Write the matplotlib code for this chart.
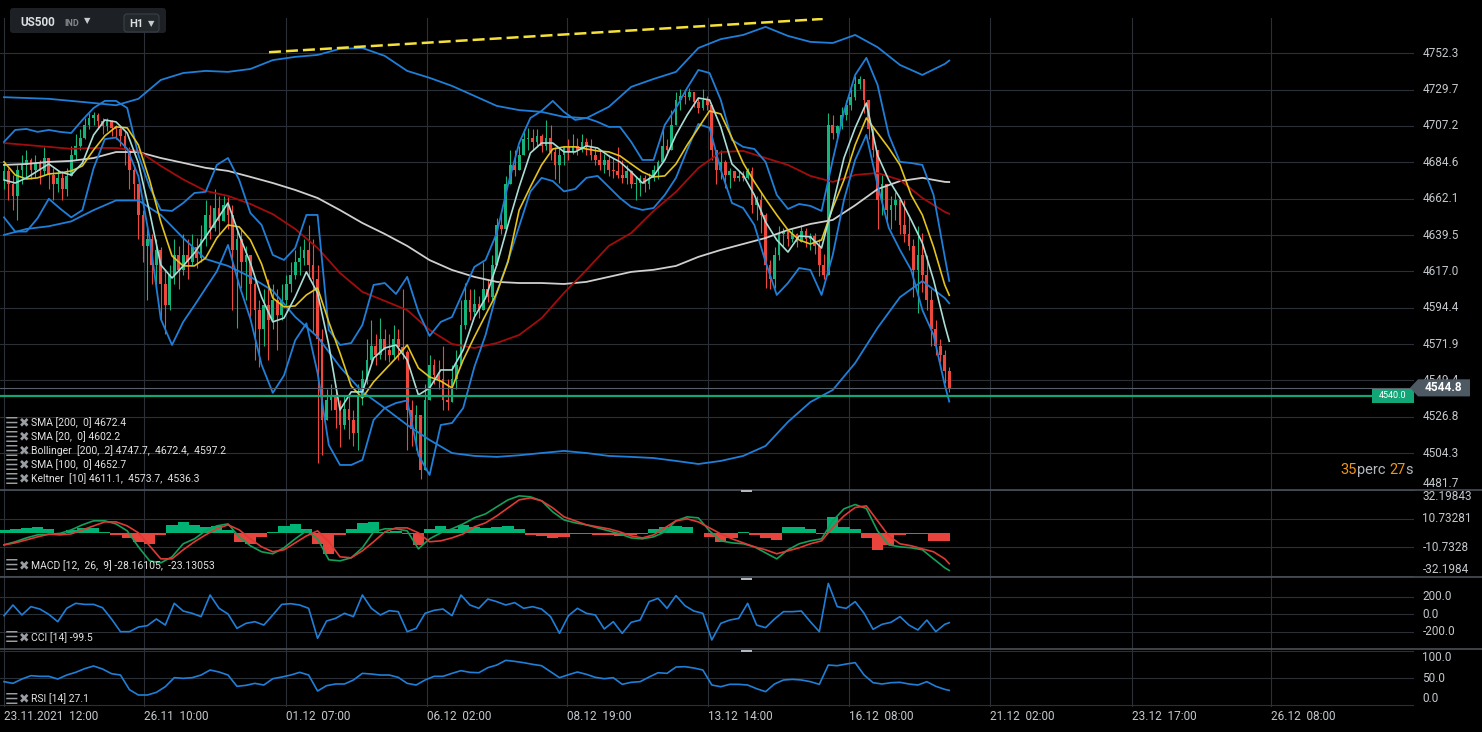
import numpy as np
import matplotlib.pyplot as plt
import matplotlib.transforms as mtransforms
from matplotlib.patches import Rectangle, Polygon, FancyBboxPatch
from matplotlib.lines import Line2D

W, H = 1482, 732
plt.rcParams['font.family'] = ['Roboto', 'DejaVu Sans']

# === Data (trading hours since 23.11.2021 12:00) ===
tick_hours = [0, 62.5, 125.8, 188.7, 251.3, 314.3, 377.1, 440, 503.6, 565.6]
tick_labels = ["23.11.2021  12:00", "26.11  10:00", "01.12  07:00", "06.12  02:00",
               "08.12  19:00", "13.12  14:00", "16.12  08:00", "21.12  02:00",
               "23.12  17:00", "26.12  08:00"]

# 2-hour candles
first_open = 4674
c_close = [4679, 4671, 4664, 4680, 4683, 4686, 4680, 4684, 4679, 4687, 4677, 4671, 4675, 4668, 4676,
           4689, 4695, 4700, 4708, 4712, 4714, 4710, 4707, 4710, 4706, 4705, 4701, 4692, 4680, 4671,
           4652, 4633, 4637, 4621, 4630, 4609, 4596, 4615, 4627, 4618, 4627, 4623, 4632, 4625, 4637,
           4652, 4644, 4656, 4648, 4658, 4652, 4630, 4637, 4623, 4627, 4609, 4593, 4581, 4596, 4587,
           4599, 4590, 4599, 4609, 4615, 4623, 4625, 4630, 4621, 4612, 4575, 4525, 4537, 4540, 4531,
           4522, 4532, 4525, 4517, 4539, 4550, 4562, 4571, 4565, 4575, 4568, 4565, 4575, 4570, 4567,
           4531, 4519, 4528, 4494, 4537, 4559, 4553, 4550, 4537, 4536, 4550, 4559, 4584, 4599, 4592,
           4597, 4593, 4606, 4601, 4621, 4646, 4643, 4671, 4683, 4680, 4689, 4699, 4700, 4697, 4701,
           4695, 4700, 4691, 4683, 4689, 4694, 4691, 4695, 4692, 4697, 4694, 4689, 4686, 4683, 4686,
           4680, 4679, 4677, 4675, 4679, 4671, 4672, 4675, 4671, 4675, 4680, 4685, 4695, 4692, 4708,
           4723, 4726, 4725, 4728, 4722, 4718, 4723, 4720, 4692, 4680, 4685, 4677, 4679, 4675, 4676,
           4675, 4679, 4658, 4661, 4652, 4621, 4612, 4627, 4640, 4642, 4637, 4640, 4635, 4642, 4637,
           4639, 4633, 4621, 4615, 4708, 4703, 4707, 4714, 4720, 4725, 4733, 4736, 4723, 4705, 4692,
           4661, 4671, 4655, 4658, 4661, 4646, 4640, 4633, 4618, 4627, 4615, 4599, 4581, 4571, 4565,
           4555, 4544.8]
c_high = [4683, 4681, 4677, 4683, 4689, 4692, 4687, 4689, 4686, 4694, 4686, 4681, 4680, 4679, 4681,
          4695, 4702, 4705, 4712, 4715, 4716, 4715, 4712, 4712, 4711, 4708, 4707, 4704, 4694, 4683,
          4671, 4655, 4646, 4640, 4637, 4632, 4618, 4621, 4637, 4633, 4640, 4637, 4640, 4638, 4646,
          4661, 4658, 4668, 4664, 4664, 4663, 4658, 4643, 4644, 4633, 4625, 4612, 4599, 4606, 4612,
          4609, 4606, 4609, 4615, 4623, 4630, 4633, 4637, 4646, 4637, 4621, 4581, 4544, 4547, 4544,
          4537, 4540, 4540, 4531, 4547, 4556, 4575, 4587, 4578, 4588, 4581, 4578, 4584, 4581, 4606,
          4568, 4537, 4534, 4525, 4547, 4565, 4563, 4562, 4571, 4550, 4559, 4568, 4599, 4610, 4606,
          4606, 4602, 4623, 4612, 4627, 4650, 4653, 4676, 4692, 4692, 4695, 4705, 4706, 4705, 4705,
          4702, 4711, 4708, 4694, 4694, 4695, 4699, 4702, 4700, 4702, 4700, 4699, 4694, 4692, 4690,
          4689, 4687, 4694, 4686, 4683, 4680, 4676, 4677, 4677, 4678, 4683, 4686, 4705, 4699, 4717,
          4728, 4730, 4730, 4731, 4728, 4725, 4730, 4726, 4720, 4692, 4692, 4686, 4681, 4679, 4679,
          4679, 4681, 4682, 4664, 4666, 4653, 4624, 4632, 4645, 4644, 4643, 4643, 4641, 4646, 4644,
          4641, 4641, 4637, 4628, 4715, 4714, 4708, 4719, 4723, 4730, 4738, 4738, 4731, 4723, 4707,
          4692, 4677, 4668, 4664, 4666, 4658, 4661, 4652, 4637, 4645, 4641, 4627, 4606, 4587, 4575,
          4568, 4558]
c_low = [4668, 4661, 4655, 4649, 4671, 4675, 4674, 4675, 4671, 4677, 4668, 4661, 4666, 4661, 4664,
         4680, 4686, 4692, 4699, 4705, 4708, 4705, 4702, 4704, 4701, 4699, 4695, 4683, 4668, 4661,
         4637, 4623, 4599, 4609, 4606, 4587, 4578, 4593, 4609, 4606, 4615, 4612, 4621, 4619, 4623,
         4633, 4637, 4642, 4640, 4649, 4643, 4593, 4582, 4607, 4599, 4587, 4562, 4558, 4571, 4562,
         4581, 4568, 4587, 4596, 4604, 4612, 4615, 4621, 4612, 4579, 4498, 4503, 4525, 4531, 4520,
         4508, 4519, 4513, 4509, 4506, 4534, 4547, 4561, 4559, 4563, 4562, 4561, 4563, 4562, 4563,
         4506, 4509, 4506, 4488, 4513, 4550, 4547, 4544, 4531, 4531, 4540, 4544, 4568, 4581, 4587,
         4590, 4588, 4596, 4598, 4599, 4623, 4640, 4646, 4674, 4676, 4680, 4689, 4692, 4692, 4694,
         4691, 4692, 4686, 4674, 4672, 4683, 4686, 4690, 4689, 4691, 4689, 4686, 4683, 4680, 4678,
         4676, 4675, 4675, 4672, 4671, 4669, 4661, 4664, 4666, 4668, 4673, 4674, 4688, 4689, 4695,
         4711, 4717, 4721, 4723, 4719, 4715, 4717, 4717, 4686, 4671, 4674, 4669, 4669, 4673, 4673,
         4673, 4674, 4653, 4649, 4641, 4607, 4606, 4607, 4624, 4633, 4633, 4635, 4632, 4637, 4632,
         4630, 4628, 4614, 4612, 4615, 4699, 4699, 4705, 4711, 4717, 4723, 4730, 4715, 4699, 4688,
         4643, 4652, 4649, 4643, 4649, 4640, 4635, 4630, 4601, 4591, 4604, 4593, 4571, 4565, 4561,
         4548, 4542]

# smooth indicators, every 10 h (+ last bar at 422 h)
boll_up = [4725, 4724.5, 4724, 4722.7, 4721.4, 4720, 4724, 4735.7, 4740, 4741.3, 4740.7, 4742.5,
           4748, 4750, 4751.2, 4755, 4755.5, 4750.6, 4741.3, 4737, 4732, 4725.8, 4719.6, 4717,
           4715.9, 4712.8, 4712, 4719, 4731.4, 4736.3, 4740.7, 4755.5, 4761, 4763.6, 4768.6,
           4763, 4759.3, 4758.6, 4763.6, 4756, 4745, 4738.8, 4745.6, 4747.7]
boll_lo = [4639.6, 4643.3, 4645, 4648, 4655, 4661, 4661, 4652, 4637.7, 4624.7, 4620.4, 4613.6,
           4605, 4588.8, 4576.4, 4557.8, 4542.3, 4532.3, 4521.8, 4512.5, 4504.4, 4502.6, 4502,
           4503, 4504.4, 4505.7, 4504.4, 4502.6, 4502, 4501.3, 4499.5, 4497.6, 4499.5, 4502.6,
           4508.8, 4523.7, 4536, 4543.5, 4560.2, 4582, 4601, 4611, 4600.5, 4597.2]
sma200 = [4683, 4683.6, 4684.9, 4685.5, 4687.3, 4691, 4691, 4687.3, 4684.3, 4681.2, 4679.3,
          4675.6, 4671.8, 4667.5, 4662.5, 4655, 4647, 4640.2, 4632.8, 4624, 4617.9, 4613.6,
          4610.5, 4609.8, 4609.8, 4609.2, 4610.5, 4613.6, 4616.7, 4618, 4620.4, 4626, 4630.3,
          4634, 4637.7, 4642.7, 4646.4, 4648.9, 4658, 4668, 4673, 4675, 4672.5, 4672.4]
sma100 = [4696.6, 4695.4, 4694.2, 4693, 4693.5, 4693.5, 4691.7, 4682.4, 4674, 4666.9, 4663.8,
          4658.8, 4652.5, 4643.3, 4631.5, 4616, 4604.3, 4598.7, 4593, 4580.7, 4572, 4569.5,
          4572.6, 4577.6, 4588, 4603.6, 4617.9, 4632.8, 4640.8, 4654.5, 4666.3, 4681.1, 4691,
          4691.7, 4687.3, 4683, 4676.2, 4672.5, 4676.8, 4678, 4673.7, 4662.5, 4653.9, 4652.7]

# faster indicators, every 5 h (+ last bar)
sma20 = [4684.9, 4676.8, 4674.3, 4675, 4677.4, 4678, 4679.3, 4682.4, 4692.3, 4701, 4706.6, 4706,
         4695.4, 4673.7, 4647.7, 4626.6, 4620.4, 4620.4, 4625.3, 4637.7, 4645.8, 4644.6, 4636.5,
         4621.6, 4600.5, 4595, 4595.6, 4602.4, 4606.7, 4585.7, 4566.4, 4546, 4538.5, 4548.5,
         4555.9, 4563.3, 4571.4, 4557.1, 4551.6, 4549, 4544.7, 4562.1, 4576.4, 4590, 4603.6,
         4622.9, 4655.1, 4669.4, 4683, 4692.9, 4694.2, 4694.2, 4692.9, 4691.7, 4691.1, 4688.6,
         4683.6, 4678.7, 4675.6, 4676.2, 4683.6, 4695.4, 4705.9, 4716.5, 4714.6, 4699.7, 4684.2,
         4672.5, 4661.9, 4652, 4642.7, 4636.5, 4634, 4636.5, 4656.3, 4673.7, 4695.4, 4712.1,
         4702.8, 4693.5, 4683, 4664.4, 4652, 4632.2, 4608.6, 4602.2]
kelt_mid = [4673.7, 4671.8, 4674.9, 4679.3, 4683.6, 4678.7, 4676.8, 4684.2, 4701.6, 4710.9, 4709.7,
            4702.8, 4684.2, 4653.9, 4621, 4612.9, 4620.4, 4628.4, 4638.4, 4648.9, 4659.4, 4639.6,
            4622.2, 4601, 4585.7, 4588.1, 4601.2, 4616.7, 4603.6, 4571.4, 4531.1, 4542.3, 4542.3,
            4563.3, 4569.5, 4571.4, 4562.1, 4540.4, 4544.7, 4555.9, 4555.9, 4568.3, 4588.7, 4600.5,
            4621, 4645.8, 4669.4, 4690.4, 4696.6, 4696.6, 4691.1, 4691.1, 4694.8, 4693.5, 4688.6,
            4684.9, 4678.7, 4671.8, 4676.2, 4686.1, 4701.6, 4714, 4724.5, 4723.3, 4706.6, 4683.6,
            4676.8, 4664.4, 4647.7, 4636.5, 4629, 4639, 4638.4, 4631.5, 4658.2, 4687.3, 4706,
            4721.4, 4689, 4673.7, 4662.5, 4648.9, 4634.6, 4611.7, 4583.8, 4573.7]
kelt_up = [4697.3, 4704.7, 4705.3, 4703.5, 4704.7, 4703.5, 4702.8, 4710.9, 4718.3, 4722.7, 4722.7,
           4718.3, 4689.2, 4669.4, 4655.1, 4654.5, 4659.4, 4665.6, 4666.3, 4683, 4687.3, 4673.7,
           4653.2, 4645.8, 4627.2, 4624.1, 4631.5, 4652, 4652, 4580.7, 4571.4, 4572.6, 4583.8,
           4608.6, 4609.8, 4603, 4613.6, 4591.9, 4577, 4585.7, 4588.7, 4604.3, 4619.8, 4624.1,
           4640.8, 4670.6, 4696.6, 4712.1, 4716.5, 4722.7, 4715.9, 4710.9, 4712.1, 4709.7, 4706.6,
           4706.6, 4697.3, 4686.1, 4686.1, 4707.8, 4718.3, 4730.7, 4741.9, 4740, 4723.3, 4698.5,
           4694.2, 4692.9, 4684.9, 4664.4, 4655.7, 4658.8, 4657.6, 4654.5, 4686.1, 4715.9, 4738.8,
           4749.4, 4732.6, 4701.6, 4684.9, 4684.2, 4683, 4664.4, 4626, 4611.1]
kelt_lo = [4650.5, 4641.7, 4641.7, 4650, 4662, 4656, 4650.5, 4655, 4681, 4699, 4700, 4693, 4676,
           4637.5, 4587.5, 4571.4, 4585.7, 4595.9, 4606.5, 4617, 4633.4, 4608.6, 4587.5, 4559.1,
           4541.7, 4552.5, 4574.3, 4584.8, 4554, 4509.4, 4497, 4497, 4500.1, 4524.9, 4532.3,
           4535.4, 4537, 4503.2, 4490.8, 4521.8, 4523, 4532.3, 4557.8, 4577.6, 4604, 4623.5, 4645,
           4666.5, 4675, 4673, 4666.6, 4668.1, 4675, 4676.2, 4669.4, 4662.5, 4657, 4655.1, 4656.3,
           4664.4, 4675, 4692.3, 4708.4, 4706, 4680, 4659.4, 4656.3, 4645.8, 4622.9, 4602.4,
           4609.8, 4619.1, 4617.9, 4602.4, 4627.2, 4661.3, 4686.1, 4701.6, 4670.6, 4644, 4630.3,
           4617.9, 4593.1, 4577.6, 4546.6, 4536.3]

trend_h = [118.3, 365.5]
trend_p = [4752.9, 4773.5]
last_price = 4544.8
level_price = 4540.0

macd = [-9.0, -6.7, -3.8, -1.5, -1.1, -0.4, 2.2, 6.0, 9.0, 9.0, 6.7, 1.5, -10.5, -21.0, -22.5,
        -18.0, -8.2, -4.5, 1.5, 5.2, 6.7, -3.0, -9.7, -14.2, -15.7, -11.2, -4.5, 1.5, -4.5, -20.2,
        -21.0, -18.7, -11.2, 0.7, 3.0, 3.0, 1.5, -12.0, -4.5, 0.0, 3.0, 6.7, 11.2, 14.2, 19.5,
        24.7, 27.7, 27.0, 24.0, 15.7, 9.7, 7.5, 6.0, 3.7, 1.5, -0.8, -3.8, -4.5, -3.0, 0.7, 9.0,
        12.0, 11.2, 1.5, -6.0, -7.5, -8.2, -10.5, -15.0, -19.5, -12.7, -8.2, -6.0, -4.5, 9.0,
        18.0, 21.2, 18.2, 1.5, -9.0, -10.5, -11.2, -12.7, -19.5, -26.2, -28.16]
signal = [-9.0, -7.5, -5.3, -3.0, -1.0, -1.5, -0.8, 2.2, 5.2, 8.2, 8.2, 5.2, 0.0, -9.7, -19.5,
          -19.5, -12.7, -6.7, -1.5, 3.0, 6.0, 2.2, -4.5, -10.5, -14.2, -12.7, -7.5, -2.3, 1.5,
          -6.7, -18.0, -18.7, -13.5, -6.7, 0.7, 3.7, 3.7, 0.0, -6.7, -6.0, -3.8, -0.8, 4.5, 7.5,
          12.7, 18.7, 24.7, 26.2, 24.0, 18.7, 12.0, 9.0, 6.0, 4.5, 3.0, 0.7, -2.3, -3.8, -1.5,
          3.7, 9.0, 10.5, 8.2, 3.7, -0.8, -4.5, -7.5, -10.5, -12.7, -15.7, -13.5, -11.2, -8.2,
          -6.0, 4.0, 12.7, 19.0, 20.2, 9.0, -2.3, -8.2, -9.7, -12.0, -14.2, -19.5, -23.13]
macd_hist = [2.0, 2.5, 3.7, 4.0, 2.7, -0.5, 2.0, 3.7, 3.7, 0.7, -1.7, -4.2, -7.2, -8.0, -1.7, 5.7,
             8.2, 6.2, 4.5, 5.2, 2.0, -6.7, -8.0, -3.0, 0.7, 5.2, 6.5, 3.2, -8.0, -15.5, -1.7, 2.5,
             7.0, 8.2, 0.7, 1.5, -0.5, -9.2, 3.2, 5.2, 3.2, 5.7, 4.5, 3.7, 4.5, 5.2, 3.2, -1.7,
             -2.2, -4.2, -3.0, -1.2, -1.2, -1.7, -1.7, -2.2, -1.7, -0.5, 3.2, 4.0, 5.2, 4.5, 0.2,
             -3.0, -6.7, -4.2, 0.7, -1.7, -3.7, -5.5, 4.5, 4.5, 3.2, -1.2, 12.0, 4.5, 2.7, -4.2,
             -13.0, -9.2, -1.7, -1.2, -1.2, -6.2, -6.2]

# every 4 h (+ last bar)
cci = [-19, 103, -11, 84, 57, -4, -88, 65, 122, 110, 110, 72, -57, -202, -202, -149, -133, -57,
       -126, 122, 34, 8, -30, 217, 65, 0, -164, -107, -88, -126, -11, 110, 118, 103, 65, -278,
       -80, -50, 8, -30, 217, 65, -11, 38, 27, -202, -164, 8, 42, 57, -19, 217, 103, 65, 171,
       141, 103, 130, 65, 84, 57, -30, -221, -19, 65, 8, -11, -171, -88, -221, -95, -69, 141,
       179, 65, 210, 95, 34, 8, -297, -107, -69, -50, 122, -126, -156, -57, 27, 27, 34, -88,
       -202, 350, 84, 65, 141, 8, -175, -118, -95, -30, -126, -183, -69, -202, -118, -99.5]
rsi = [43.2, 40.1, 48.1, 54.3, 53.1, 53.1, 48.1, 55.5, 60.5, 67.3, 72.2, 66.6, 58.0, 55.5, 28.4,
       18.5, 18.5, 23.4, 33.9, 50.6, 49.4, 50.6, 55.5, 64.8, 61.1, 55.5, 34.6, 36.4, 40.1, 37.0,
       48.7, 51.8, 55.5, 60.5, 55.5, 25.9, 35.8, 38.9, 38.9, 46.3, 58.6, 57.4, 55.5, 55.5, 51.2,
       40.1, 37.0, 46.3, 53.1, 53.1, 58.6, 63.6, 60.5, 59.8, 69.1, 74.0, 82.7, 80.8, 78.4, 75.3,
       72.8, 61.7, 50.6, 56.1, 61.1, 56.8, 51.2, 48.7, 50.6, 38.3, 42.0, 43.2, 51.8, 59.8, 58.6,
       70.3, 71.0, 68.5, 64.8, 37.0, 33.9, 38.3, 38.3, 37.0, 30.2, 24.7, 38.9, 46.3, 47.5, 46.3,
       43.2, 38.3, 74.0, 72.8, 75.9, 78.4, 55.5, 41.3, 38.9, 41.3, 42.0, 38.9, 37.0, 43.2, 34.6,
       29.0, 27.1]

price_ticks = [4752.3, 4729.7, 4707.2, 4684.6, 4662.1, 4639.5, 4617.0, 4594.4, 4571.9, 4549.4,
               4526.8, 4504.3, 4481.7]
macd_ticks = [32.19843, 10.73281, -10.7328, -32.1984]
cci_ticks = [200.0, 0.0, -200.0]
rsi_ticks = [100.0, 50.0, 0.0]

legend_main = ["SMA [200,  0] 4672.4", "SMA [20,  0] 4602.2",
               "Bollinger  [200,  2] 4747.7,  4672.4,  4597.2", "SMA [100,  0] 4652.7",
               "Keltner  [10] 4611.1,  4573.7,  4536.3"]
legend_macd = "MACD [12,  26,  9] -28.16105,  -23.13053"
legend_cci = "CCI [14] -99.5"
legend_rsi = "RSI [14] 27.1"

# === Style ===
BG = '#000000'
GRID = '#2b3036'
SEP = '#4a5057'
LABEL = '#c4c8cc'
GREEN = '#16b47a'
RED = '#f0473d'
BLUE = '#1f7fd8'


def line_hours(values, step):
    h = list(np.arange(len(values) - 1) * step)
    return h + [422]


fig = plt.figure(figsize=(W / 100, H / 100), dpi=100, facecolor=BG)


def panel(top, bottom):
    a = fig.add_axes([0, 1 - bottom / H, 1414 / W, (bottom - top) / H])
    a.set_facecolor(BG)
    for s in a.spines.values():
        s.set_visible(False)
    a.set_xlim(-1.79, 629.5)
    a.set_xticks(tick_hours)
    a.grid(True, color=GRID, linewidth=0.8)
    a.set_axisbelow(True)
    a.yaxis.tick_right()
    a.tick_params(axis='y', length=0, pad=6, labelsize=8.5, labelcolor=LABEL)
    a.tick_params(axis='x', length=0, labelbottom=False)
    return a


ax = panel(18, 489.8)
ax_macd = panel(489.8, 577)
ax_cci = panel(577, 649)
ax_rsi = panel(649, 707)

# --- price panel ---
ax.set_ylim(4481.6, 4774.1)
ax.set_yticks(price_ticks, labels=[f"{v:.1f}" for v in price_ticks])
for lab in ax.get_yticklabels():
    lab.set_va('center')
ax.get_yticklabels()[-1].set_va('bottom')

c_close_a = np.array(c_close)
opens = np.r_[first_open, c_close_a[:-1]]
h_c = np.arange(len(c_close)) * 2
up = c_close_a >= opens
cols = np.where(up, GREEN, RED)
lo = np.minimum(np.array(c_low), np.minimum(opens, c_close_a))
hi = np.maximum(np.array(c_high), np.maximum(opens, c_close_a))
ax.vlines(h_c, lo, hi, colors=cols, linewidth=0.8, zorder=2)
ax.bar(h_c, np.maximum(np.abs(c_close_a - opens), 0.6), bottom=np.minimum(opens, c_close_a),
       width=1.2, color=cols, linewidth=0, zorder=2)

h10 = line_hours(boll_up, 10)
h5 = line_hours(sma20, 5)
ax.plot(h10, boll_up, color=BLUE, lw=1.3, zorder=3)
ax.plot(h10, boll_lo, color=BLUE, lw=1.3, zorder=3)
ax.plot(h10, sma200, color='#cfcfcf', lw=1.3, zorder=3)
ax.plot(h10, sma100, color='#a30c0c', lw=1.3, zorder=3)
ax.plot(h5, kelt_up, color=BLUE, lw=1.3, zorder=3)
ax.plot(h5, kelt_lo, color=BLUE, lw=1.3, zorder=3)
ax.plot(h5, sma20, color='#e3c31c', lw=1.2, zorder=3)
ax.plot(h5, kelt_mid, color='#a9ded6', lw=1.2, zorder=3)
ax.plot(trend_h, trend_p, color='#f5e13a', lw=1.8, dashes=(4.8, 2.0), zorder=4)

ax.axhline(last_price, color='#56606a', lw=0.8, zorder=3)
ax.axhline(level_price, color='#12a576', lw=1.6, zorder=4)

blend = mtransforms.blended_transform_factory(ax.transAxes, ax.transData)
ax.add_patch(Rectangle((1372 / 1414, level_price - 7 * 0.62), 42 / 1414, 14 * 0.62,
                       transform=blend, facecolor='#12a576', edgecolor='none', zorder=6))
ax.text(1393 / 1414, level_price, "4540.0", transform=blend, ha='center', va='center',
        color='white', fontsize=6.5, zorder=7)
tag = [(1410 / 1414, last_price), (1418 / 1414, last_price + 5.3), (1470 / 1414, last_price + 5.3),
       (1470 / 1414, last_price - 5.3), (1418 / 1414, last_price - 5.3)]
ax.add_patch(Polygon(tag, closed=True, transform=blend, facecolor='#4d5a64', edgecolor='none',
                     clip_on=False, zorder=8))
ax.text(1443 / 1414, last_price, "4544.8", transform=blend, ha='center', va='center',
        color='white', fontsize=8.5, fontweight='bold', clip_on=False, zorder=9)

# --- MACD ---
ax_macd.set_ylim(-33.1, 32.25)
ax_macd.set_yticks(macd_ticks, labels=["32.19843", "10.73281", "-10.7328", "-32.1984"])
mlabs = ax_macd.get_yticklabels()
for lab in mlabs:
    lab.set_va('center')
mlabs[0].set_va('top')
mlabs[-1].set_va('bottom')
hh = np.arange(len(macd_hist)) * 5
mh = np.array(macd_hist)
ax_macd.bar(hh, mh, width=5, color=np.where(mh >= 0, '#00b374', '#e8433c'), linewidth=0, zorder=2)
ax_macd.plot(h5, macd, color='#13a05a', lw=1.2, zorder=3)
ax_macd.plot(h5, signal, color='#e03a34', lw=1.2, zorder=3)

# --- CCI ---
h4 = line_hours(cci, 4)
ax_cci.set_ylim(-400, 423)
ax_cci.set_yticks(cci_ticks, labels=["200.0", "0.0", "-200.0"])
for lab in ax_cci.get_yticklabels():
    lab.set_va('center')
ax_cci.plot(h4, cci, color=BLUE, lw=1.2)

# --- RSI ---
ax_rsi.set_ylim(-3.7, 103.7)
ax_rsi.set_yticks(rsi_ticks, labels=["100.0", "50.0", "0.0"])
rlabs = ax_rsi.get_yticklabels()
for lab in rlabs:
    lab.set_va('center')
rlabs[0].set_va('top')
rlabs[-1].set_va('bottom')
ax_rsi.plot(h4, rsi, color=BLUE, lw=1.2)
ax_rsi.tick_params(axis='x', labelbottom=True, pad=2, labelsize=8.5, labelcolor=LABEL)
ax_rsi.set_xticks(tick_hours, labels=tick_labels)
for lab in ax_rsi.get_xticklabels():
    lab.set_ha('left')


# --- figure decorations ---
def fpos(x, y):
    return x / W, 1 - y / H


for y in (489.8, 577, 649):
    fig.add_artist(Line2D([0, 1], [1 - y / H] * 2, color=SEP, lw=1.2, zorder=5))
    fig.add_artist(Rectangle(fpos(741, y + 2.5), 11 / W, 2 / H, facecolor='#b4b8bc',
                             edgecolor='none', zorder=10))

ICON = '#9a9ea2'
TXT = '#e2e2e2'


def legend_row(y, text):
    fig.text(*fpos(4.5, y), "\u2630", color=ICON, fontsize=11, va='center', family=['DejaVu Sans'])
    fig.text(*fpos(18.5, y), "\u2716", color=ICON, fontsize=9, va='center', family=['DejaVu Sans'])
    fig.text(*fpos(31, y), text, color=TXT, fontsize=7.5, va='center')


for i, s in enumerate(legend_main):
    legend_row(423 + 14 * i, s)
legend_row(565.5, legend_macd)
legend_row(638, legend_cci)
legend_row(699, legend_rsi)

# header
ident = mtransforms.IdentityTransform()
fig.add_artist(FancyBboxPatch((10, H - 33), 156, 25, boxstyle='round,pad=0,rounding_size=3',
                              transform=ident, facecolor='#1d2125', edgecolor='none'))
fig.add_artist(FancyBboxPatch((124, H - 32), 35, 18, boxstyle='round,pad=0,rounding_size=3',
                              transform=ident, facecolor='#22272c', edgecolor='#394046', lw=0.8))
fig.text(*fpos(20, 23), "US500", color='#dcdee0', fontsize=8.5, fontweight='bold', va='center')
fig.text(*fpos(64, 24), "IND", color='#80868b', fontsize=6.5, fontweight='bold', va='center')
fig.text(*fpos(84, 21), "\u25BC", color='#c8ccd0', fontsize=6, va='center', family=['DejaVu Sans'])
fig.text(*fpos(129, 24), "H1", color='#dcdee0', fontsize=8, fontweight='bold', va='center')
fig.text(*fpos(148, 24), "\u25BC", color='#c8ccd0', fontsize=6, va='center', family=['DejaVu Sans'])

# countdown text
ORANGE = '#f39412'
GRAY = '#b5b9bd'
for s, c, x in [("35", ORANGE, 1340), ("perc", GRAY, 1357), ("27", ORANGE, 1389), ("s", GRAY, 1405)]:
    fig.text(*fpos(x, 470), s, color=c, fontsize=10.5, va='center', ha='left')

fig.savefig("out.png", dpi=100, facecolor=BG)
